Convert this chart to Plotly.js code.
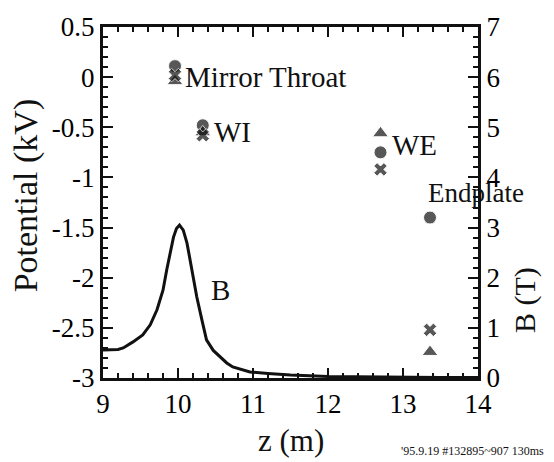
<!DOCTYPE html>
<html>
<head>
<meta charset="utf-8">
<script src="https://cdn.plot.ly/plotly-3.0.1.min.js"></script>
<style>html,body{margin:0;padding:0;background:#fff;}#chart{width:554px;height:462px;}</style>
</head>
<body>
<div id="chart"></div>
<script>
// Magnetic field profile B(z) in T (right axis)
const bZ = [9.0, 9.1, 9.2, 9.27, 9.4, 9.53, 9.63, 9.72, 9.8, 9.85, 9.9, 9.94, 9.98, 10.02, 10.07, 10.12, 10.18, 10.25, 10.32, 10.38, 10.47, 10.56, 10.65, 10.73, 10.85, 10.96, 11.2, 11.5, 12.0, 12.5, 13.0, 13.5, 14.0];
const bT = [0.56, 0.56, 0.57, 0.6, 0.72, 0.86, 1.06, 1.36, 1.75, 2.16, 2.5, 2.81, 2.98, 3.05, 2.95, 2.69, 2.2, 1.62, 1.15, 0.76, 0.55, 0.42, 0.3, 0.22, 0.16, 0.12, 0.09, 0.06, 0.03, 0.02, 0.01, 0.01, 0.01];

// Potential (kV) at measurement positions
const locNames = ["Mirror Throat", "WI", "WE", "Endplate"];
const locZ = [9.96, 10.33, 12.7, 13.36];
const potCircle = [0.11, -0.48, -0.75, -1.40];
const potCross = [0.02, -0.58, -0.92, -2.52];
const potTriangle = [-0.04, -0.55, -0.56, -2.74];

// Tick labels
const xTicks = [9, 10, 11, 12, 13, 14];
const yTicks = [0.5, 0, -0.5, -1, -1.5, -2, -2.5, -3];
const yTickText = ["0.5", "0", "-0.5", "-1", "-1.5", "-2", "-2.5", "-3"];
const y2Ticks = [0, 1, 2, 3, 4, 5, 6, 7];

const SERIF = "Liberation Serif";
const gd = document.getElementById("chart");

// one marker trace holding all three symbol series
const mX = [], mY = [], mSym = [], mSize = [];
[[potCircle, "circle", 13], [potTriangle, "triangle-up", 14], [potCross, "x", 12]].forEach(function (s) {
  s[0].forEach(function (v, i) { mX.push(locZ[i]); mY.push(v); mSym.push(s[1]); mSize.push(s[2]); });
});

const traces = [
  {x: bZ, y: bT, yaxis: "y2", type: "scatter", mode: "lines", line: {color: "#111", width: 3}},
  {x: mX, y: mY, type: "scatter", mode: "markers", marker: {symbol: mSym, size: mSize, color: "#111"}}
];

const layout = {
  width: 554, height: 462, margin: {l: 103, r: 76, t: 27, b: 84}, showlegend: false,
  xaxis: {range: [9, 14], tickvals: xTicks, mirror: "ticks", showgrid: false, zeroline: false, showline: true, linecolor: "#111", linewidth: 3,
    ticks: "inside", ticklen: 10, tickwidth: 2, tickcolor: "#111", tickfont: {family: SERIF, size: 27, color: "#000"},
    minor: {dtick: 0.2, ticks: "inside", ticklen: 5, tickwidth: 2, tickcolor: "#111", showgrid: false}},
  yaxis: {range: [-3, 0.5], tickvals: yTicks, ticktext: yTickText, showgrid: false, zeroline: false, showline: true, linecolor: "#111", linewidth: 3,
    ticks: "inside", ticklen: 10, tickwidth: 2, tickcolor: "#111", tickfont: {family: SERIF, size: 27, color: "#000"},
    minor: {dtick: 0.1, ticks: "inside", ticklen: 5, tickwidth: 2, tickcolor: "#111", showgrid: false}},
  yaxis2: {range: [0, 7], tickvals: y2Ticks, overlaying: "y", side: "right", showgrid: false, zeroline: false, showline: true, linecolor: "#111", linewidth: 3,
    ticks: "inside", ticklen: 10, tickwidth: 2, tickcolor: "#111", tickfont: {family: SERIF, size: 27, color: "#000"},
    minor: {dtick: 0.2, ticks: "inside", ticklen: 5, tickwidth: 2, tickcolor: "#111", showgrid: false}},
  annotations: [
    {xref: "x", yref: "y", x: 10.07, y: 0.0, text: locNames[0], showarrow: false, xanchor: "left", yanchor: "middle", font: {family: SERIF, size: 29, color: "#111"}},
    {xref: "x", yref: "y", x: 10.45, y: -0.55, text: locNames[1], showarrow: false, xanchor: "left", yanchor: "middle", font: {family: SERIF, size: 29, color: "#111"}},
    {xref: "x", yref: "y", x: 12.83, y: -0.68, text: locNames[2], showarrow: false, xanchor: "left", yanchor: "middle", font: {family: SERIF, size: 29, color: "#111"}},
    {xref: "x", yref: "y", x: 13.3, y: -1.16, text: locNames[3], showarrow: false, xanchor: "left", yanchor: "middle", font: {family: SERIF, size: 27, color: "#111"}},
    {xref: "x", yref: "y", x: 10.57, y: -2.12, text: "B", showarrow: false, xanchor: "center", yanchor: "middle", font: {family: SERIF, size: 29, color: "#111"}},
    {xref: "paper", yref: "paper", x: -0.203, y: 0.52, text: "Potential (kV)", textangle: -90, showarrow: false, xanchor: "center", yanchor: "middle", font: {family: SERIF, size: 34, color: "#111"}},
    {xref: "paper", yref: "paper", x: 0.5, y: -0.177, text: "z (m)", showarrow: false, xanchor: "center", yanchor: "middle", font: {family: SERIF, size: 31, color: "#111"}},
    {xref: "paper", yref: "paper", x: 1.125, y: 0.222, text: "B (T)", textangle: -90, showarrow: false, xanchor: "center", yanchor: "middle", font: {family: SERIF, size: 30, color: "#111"}},
    {xref: "paper", yref: "paper", x: 0.79, y: -0.208, text: "'95.9.19 #132895~907 130ms", showarrow: false, xanchor: "left", yanchor: "middle", font: {family: SERIF, size: 12, color: "#111"}}
  ]
};

Plotly.newPlot(gd, traces, layout, {displayModeBar: false});
</script>
</body>
</html>
